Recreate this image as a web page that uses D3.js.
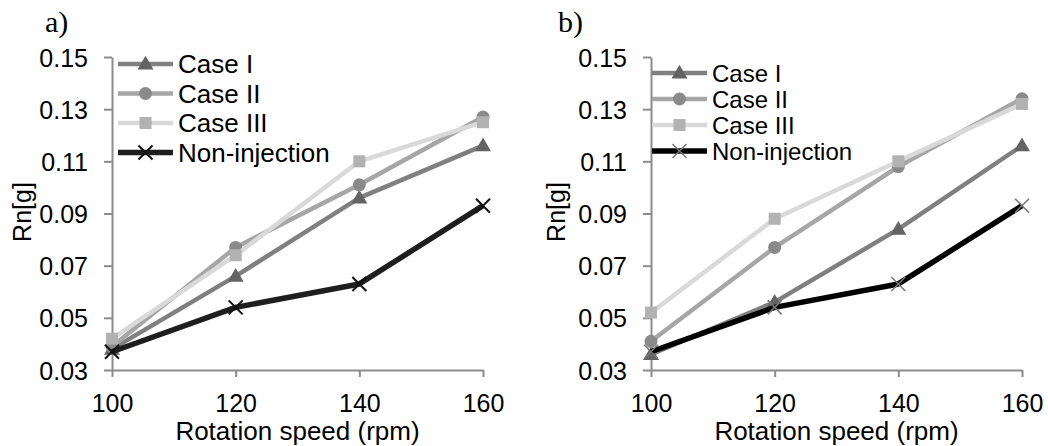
<!DOCTYPE html>
<html>
<head>
<meta charset="utf-8">
<script src="https://cdn.jsdelivr.net/npm/d3@7/dist/d3.min.js"></script>
<style>
  html, body { margin: 0; padding: 0; background: #fff; }
  svg { display: block; font-family: "Liberation Sans", Arial, sans-serif; }
</style>
</head>
<body>
<div id="chart"></div>
<script>
// data
const speeds = [100, 120, 140, 160];
const yTicks = [0.03, 0.05, 0.07, 0.09, 0.11, 0.13, 0.15];
const seriesNames = ['Case I', 'Case II', 'Case III', 'Non-injection'];

// panel a)
const caseIA = [0.038, 0.066, 0.096, 0.116];
const caseIIA = [0.039, 0.077, 0.101, 0.127];
const caseIIIA = [0.042, 0.074, 0.110, 0.125];
const nonInjA = [0.037, 0.054, 0.063, 0.093];

// panel b)
const caseIB = [0.036, 0.056, 0.084, 0.116];
const caseIIB = [0.041, 0.077, 0.108, 0.134];
const caseIIIB = [0.052, 0.088, 0.110, 0.132];
const nonInjB = [0.037, 0.054, 0.063, 0.093];

// styling per series
const styles = [
    {line: '#808080', mark: '#636363', shape: 'triangle', width: 4.5},
    {line: '#a6a6a6', mark: '#8a8a8a', shape: 'circle', width: 4.5},
    {line: '#d9d9d9', mark: '#b2b2b2', shape: 'square', width: 4.5},
    {line: '#1e1e1e', mark: '#111111', shape: 'cross', width: 5.5}
];

const svg = d3.select('#chart')
    .append('svg')
    .attr('width', 1048)
    .attr('height', 446);

function drawMarker(g, shape, x, y, color, crossColor, crossWidth) {
    if (shape === 'triangle') {
        g.append('path')
            .attr('d', d3.symbol().type(d3.symbolTriangle).size(110)())
            .attr('transform', `translate(${x},${y + 1})`)
            .attr('fill', color);
    } else if (shape === 'circle') {
        g.append('circle')
            .attr('cx', x).attr('cy', y).attr('r', 6.5)
            .attr('fill', color);
    } else if (shape === 'square') {
        g.append('rect')
            .attr('x', x - 6).attr('y', y - 6)
            .attr('width', 12).attr('height', 12)
            .attr('fill', color);
    } else {
        const s = 7;
        g.append('path')
            .attr('d', `M${x - s},${y - s}L${x + s},${y + s}M${x - s},${y + s}L${x + s},${y - s}`)
            .attr('stroke', crossColor)
            .attr('stroke-width', crossWidth)
            .attr('fill', 'none');
    }
}

function drawPanel(p) {
    const g = svg.append('g');

    const x = d3.scaleLinear().domain([100, 160]).range([p.left, p.right]);
    const y = d3.scaleLinear().domain([0.03, 0.15]).range([370, 57]);

    // y axis
    const yAxis = g.append('g')
        .attr('transform', `translate(${p.left},0)`)
        .call(d3.axisLeft(y).tickValues(yTicks).tickSize(8).tickSizeOuter(0)
            .tickFormat(d3.format('.2f')));
    yAxis.select('.domain').attr('stroke', '#8c8c8c').attr('stroke-width', 2);
    yAxis.selectAll('.tick line').attr('stroke', '#8c8c8c').attr('stroke-width', 2);
    yAxis.selectAll('.tick text')
        .attr('x', -24)
        .attr('dy', '0.36em')
        .attr('fill', '#000')
        .style('font-size', '25px')
        .style('font-family', '"Liberation Sans", Arial, sans-serif');

    // x axis
    const xAxis = g.append('g')
        .attr('transform', `translate(0,370)`)
        .call(d3.axisBottom(x).tickValues(speeds).tickSize(7).tickSizeOuter(0)
            .tickFormat(d3.format('d')));
    xAxis.select('.domain').attr('stroke', '#8c8c8c').attr('stroke-width', 2);
    xAxis.selectAll('.tick line').attr('stroke', '#8c8c8c').attr('stroke-width', 2);
    xAxis.selectAll('.tick text')
        .attr('y', 42)
        .attr('dy', 0)
        .attr('fill', '#000')
        .style('font-size', '25px')
        .style('font-family', '"Liberation Sans", Arial, sans-serif');

    // axis titles
    g.append('text')
        .attr('x', (p.left + p.right) / 2)
        .attr('y', 440)
        .attr('text-anchor', 'middle')
        .style('font-size', '26px')
        .text('Rotation speed (rpm)');

    g.append('text')
        .attr('transform', `translate(${p.yTitleX},212) rotate(-90)`)
        .attr('text-anchor', 'middle')
        .style('font-size', '25px')
        .text('Rn[g]');

    // panel letter
    g.append('text')
        .attr('x', p.letterX)
        .attr('y', 32)
        .style('font-family', '"Liberation Serif", "Times New Roman", serif')
        .style('font-size', '30px')
        .text(p.letter);

    // series lines then markers
    const line = d3.line()
        .x((d, i) => x(speeds[i]))
        .y(d => y(d));

    p.series.forEach((vals, k) => {
        const st = styles[k];
        const sg = g.append('g');
        sg.append('path')
            .datum(vals)
            .attr('d', line)
            .attr('fill', 'none')
            .attr('stroke', k === 3 ? p.nonInjColor : st.line)
            .attr('stroke-width', st.width)
            .attr('stroke-linejoin', 'round');
        vals.forEach((v, i) => {
            drawMarker(sg, st.shape, x(speeds[i]), y(v), st.mark, p.crossColor, p.crossWidth);
        });
    });

    // legend
    const lg = g.append('g');
    seriesNames.forEach((name, k) => {
        const st = styles[k];
        const ry = p.legendY + k * p.legendStep;
        lg.append('line')
            .attr('x1', p.legendX).attr('x2', p.legendX + 55)
            .attr('y1', ry).attr('y2', ry)
            .attr('stroke', k === 3 ? p.nonInjColor : st.line)
            .attr('stroke-width', st.width);
        drawMarker(lg, st.shape, p.legendX + 27.5, ry, st.mark, p.crossColor, p.crossWidth);
        lg.append('text')
            .attr('x', p.legendX + 60)
            .attr('y', ry)
            .attr('dy', '0.36em')
            .style('font-size', p.legendFont + 'px')
            .text(name);
    });
}

drawPanel({
    left: 112, right: 483, yTitleX: 31, letter: 'a)', letterX: 45,
    series: [caseIA, caseIIA, caseIIIA, nonInjA],
    legendX: 118, legendY: 64, legendStep: 29.5, legendFont: 26,
    nonInjColor: '#1e1e1e', crossColor: '#111', crossWidth: 2
});

drawPanel({
    left: 651, right: 1022, yTitleX: 565, letter: 'b)', letterX: 558,
    series: [caseIB, caseIIB, caseIIIB, nonInjB],
    legendX: 652, legendY: 73, legendStep: 26, legendFont: 24,
    nonInjColor: '#000', crossColor: '#777', crossWidth: 1.5
});
</script>
</body>
</html>
